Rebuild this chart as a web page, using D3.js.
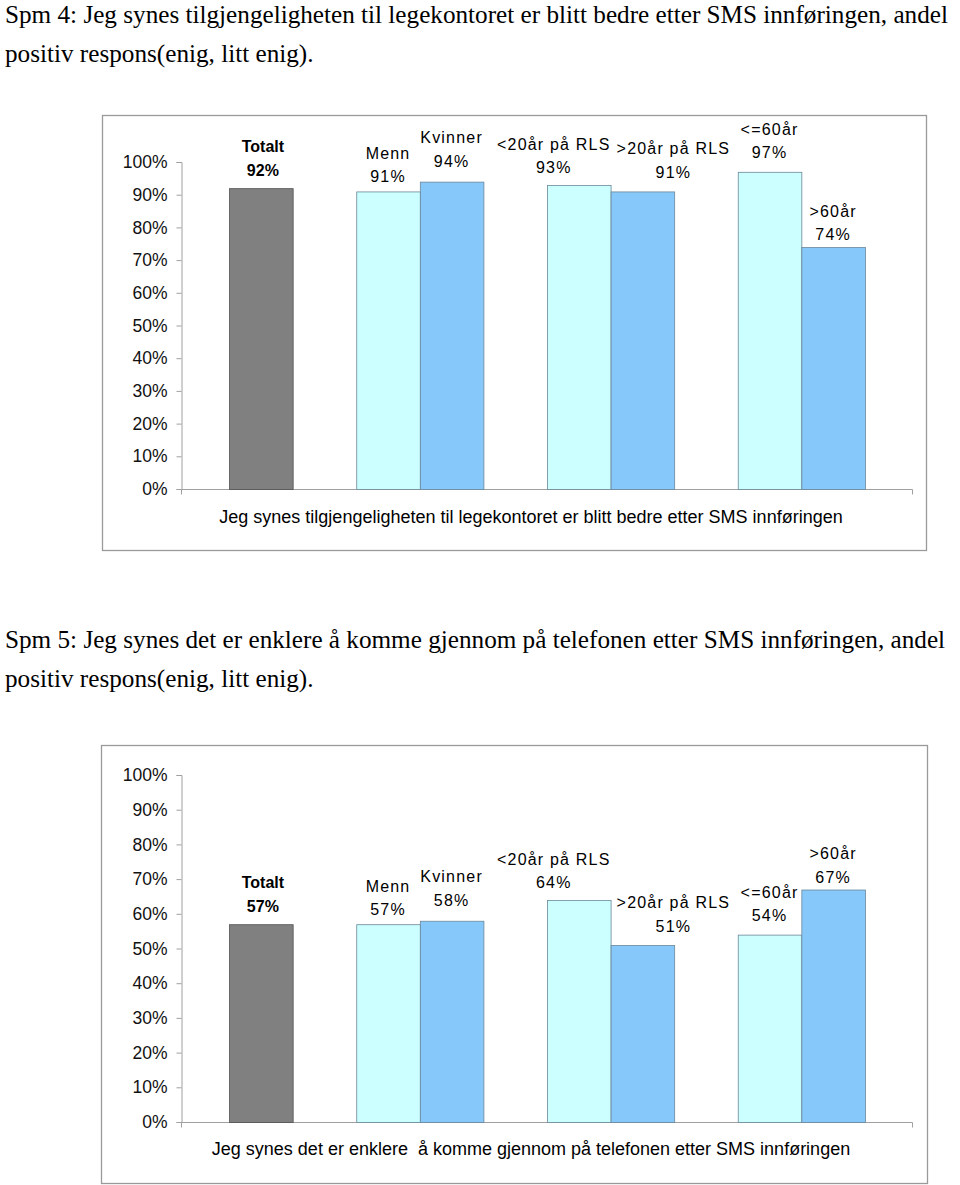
<!DOCTYPE html>
<html><head><meta charset="utf-8">
<script src="https://cdn.jsdelivr.net/npm/d3@7"></script>
<style>
html,body{margin:0;padding:0;background:#fff;}
svg{display:block;}
</style></head>
<body>
<script>
// ---- data ----
const seriesNames = ["Totalt", "Menn", "Kvinner", "<20år på RLS", ">20år på RLS", "<=60år", ">60år"];
const slotOrder = ["Totalt", "_gap1", "Menn", "Kvinner", "_gap2", "<20år på RLS", ">20år på RLS", "_gap3", "<=60år", ">60år"];
const spm4Values = [92, 91, 94, 93, 91, 97, 74];
const spm5Values = [57, 57, 58, 64, 51, 54, 67];
const yTickValues = [0, 10, 20, 30, 40, 50, 60, 70, 80, 90, 100];
const spm4Title = ["Spm 4: Jeg synes tilgjengeligheten til legekontoret er blitt bedre etter SMS innføringen, andel", "positiv respons(enig, litt enig)."];
const spm5Title = ["Spm 5: Jeg synes det er enklere å komme gjennom på telefonen etter SMS innføringen, andel", "positiv respons(enig, litt enig)."];
const spm4AxisTitle = "Jeg synes tilgjengeligheten til legekontoret er blitt bedre etter SMS innføringen";
const spm5AxisTitle = "Jeg synes det er enklere  å komme gjennom på telefonen etter SMS innføringen";

// ---- drawing ----
const W = 960, H = 1185;
const svg = d3.select("body").append("svg").attr("width", W).attr("height", H);

const fillFor = i => i === 0 ? "#808080" : (i % 2 === 1 ? "#ccffff" : "#86c8fa");
const strokeFor = i => i === 0 ? "#505050" : "#6a8799";
// label nudges (per series): horizontal shift and height above bar of value line
const labelDx = [2, 0, 0, -25, 31, 0, 0];
const labelDy = [18, 14.5, 20.5, 17, 19, 19, 12.5];

function drawTitle(lines, y0) {
  const t = svg.append("text")
    .attr("font-family", "'Liberation Serif','Times New Roman',serif")
    .attr("font-size", 25.2).attr("fill", "#000")
    .attr("xml:space", "preserve");
  lines.forEach((l, i) => {
    t.append("tspan").attr("x", 5).attr("y", y0 + i * 39).text(l);
  });
}

function drawChart(cfg) {
  const g = svg.append("g");
  // frame
  g.append("rect").attr("x", cfg.frame[0] + 0.5).attr("y", cfg.frame[1] + 0.5)
    .attr("width", cfg.frame[2]).attr("height", cfg.frame[3])
    .attr("fill", "#fff").attr("stroke", "#9a9a9a").attr("stroke-width", 1.3);

  const x = d3.scaleBand().domain(slotOrder).range([181, 913]).paddingInner(0).paddingOuter(0.756);
  const y = d3.scaleLinear().domain([0, 100]).range([cfg.y0, cfg.y100]);

  // y axis
  const yAxis = d3.axisLeft(y).tickValues(yTickValues).tickFormat(d => d + "%").tickSize(5).tickPadding(9);
  const ya = g.append("g").attr("transform", "translate(181.5,0)").call(yAxis);
  ya.select(".domain").attr("stroke", "#a0a0a0");
  ya.selectAll(".tick line").attr("stroke", "#a0a0a0");
  ya.selectAll(".tick text").attr("font-family", "Arial, 'Liberation Sans', sans-serif")
    .attr("font-size", 17.5).attr("fill", "#111");

  // x axis (single category)
  const xc = d3.scaleBand().domain(["cat"]).range([181, 913]);
  const xAxis = d3.axisBottom(xc).tickSize(0).tickFormat("");
  const xa = g.append("g").attr("transform", `translate(0,${cfg.y0 + 0.5})`).call(xAxis);
  xa.select(".domain").attr("stroke", "#a0a0a0").attr("d", `M181.5,5V0H912.5V5`);

  // bars
  const data = seriesNames.map((n, i) => ({ name: n, value: cfg.values[i], i }));
  g.selectAll("rect.bar").data(data).join("rect").attr("class", "bar")
    .attr("x", d => x(d.name) + 0.5)
    .attr("width", x.bandwidth())
    .attr("y", d => y(d.value) + 0.5)
    .attr("height", d => y(0) - y(d.value))
    .attr("fill", d => fillFor(d.i))
    .attr("stroke", d => strokeFor(d.i)).attr("stroke-width", 0.8);

  // labels
  const lab = g.selectAll("g.lab").data(data).join("g").attr("class", "lab")
    .attr("transform", d => `translate(${x(d.name) + x.bandwidth() / 2 + labelDx[d.i]},${y(d.value) - labelDy[d.i]})`);
  lab.append("text").attr("text-anchor", "middle").attr("dominant-baseline", "central")
    .attr("y", -23.5)
    .attr("font-family", "Arial, 'Liberation Sans', sans-serif")
    .attr("font-size", 16)
    .attr("font-weight", d => d.i === 0 ? "bold" : "normal")
    .attr("letter-spacing", d => d.i === 0 ? 0 : 1.2)
    .text(d => d.name);
  lab.append("text").attr("text-anchor", "middle").attr("dominant-baseline", "central")
    .attr("font-family", "Arial, 'Liberation Sans', sans-serif")
    .attr("font-size", 16)
    .attr("font-weight", d => d.i === 0 ? "bold" : "normal")
    .attr("letter-spacing", d => d.i === 0 ? 0 : 1.2)
    .text(d => d.value + "%");

  // category axis title
  g.append("text").attr("x", cfg.axisTitleX).attr("y", cfg.axisTitleY)
    .attr("text-anchor", "middle").attr("dominant-baseline", "central")
    .attr("font-family", "Arial, 'Liberation Sans', sans-serif")
    .attr("font-size", 18).attr("fill", "#000")
    .attr("xml:space", "preserve")
    .text(cfg.axisTitle);
}

drawTitle(spm4Title, 22.5);
drawChart({ frame: [102, 115, 824, 435], y0: 489, y100: 162, values: spm4Values, axisTitle: spm4AxisTitle, axisTitleX: 531, axisTitleY: 517 });
drawTitle(spm5Title, 648);
drawChart({ frame: [101, 745, 826, 438], y0: 1122, y100: 775, values: spm5Values, axisTitle: spm5AxisTitle, axisTitleX: 531, axisTitleY: 1149 });
</script>
</body></html>
